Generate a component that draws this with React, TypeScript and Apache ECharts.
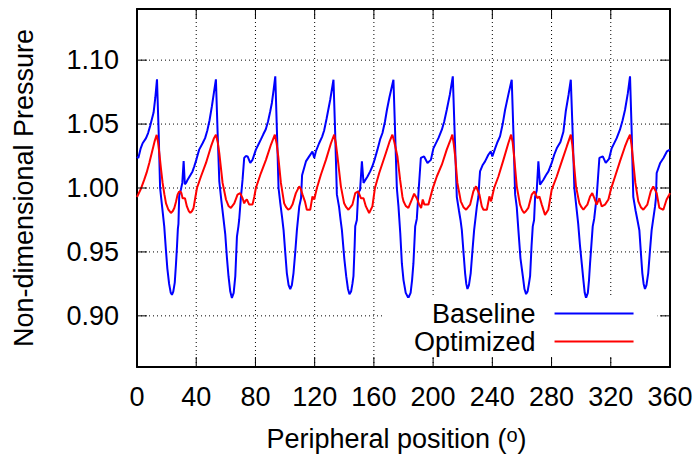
import React, { useEffect, useRef } from "react";
import * as echarts from "echarts";

const xTicks = [0, 40, 80, 120, 160, 200, 240, 280, 320, 360];
const yTicks = [0.9, 0.95, 1.0, 1.05, 1.1];
const X_MIN = 0;
const X_MAX = 360;
const Y_MIN = 0.86;
const Y_MAX = 1.14;

const baselineDeg = [
  0, 0.9, 2.5, 3.8, 6.1, 7.5, 9.0, 11.2, 12.4, 13.5, 14.6, 15.6, 17.0, 18.4, 19.5, 20.5, 21.7, 22.8, 23.6, 24.5, 25.5, 26.3, 27.0, 27.6, 28.0, 28.5, 29.7, 30.6, 31.5, 32.3, 33.2, 34.2, 36.0, 37.5, 38.7, 39.8, 41.0, 42.0, 44.3, 46.0, 47.5, 49.0, 50.6, 52.0, 53.3,
  54.4, 55.6, 57.0, 58.3, 59.6, 60.7, 61.8, 63.0, 64.1, 65.3, 66.4, 67.5, 68.5, 69.0, 70.2, 71.3, 72.4, 73.5, 74.7, 76.5, 78.0, 80.3, 82.0, 83.7, 85.3, 87.0, 88.5, 90.0, 91.1, 92.3, 93.4,
  94.5, 95.6, 96.8, 98.0, 99.0, 100.1, 101.2, 102.4, 103.5, 104.6, 105.7, 106.9, 108.0, 109.6, 110.8, 111.5, 114.1, 116.3, 118.5, 119.7, 120.8, 123.0, 125.0, 126.4, 128.0, 130.5, 132.7,
  133.8, 135.0, 136.5, 137.5, 138.4, 140.0, 141.3, 142.5, 143.5, 144.6, 145.5, 146.2, 147.0, 147.4, 148.5, 149.4, 150.7, 151.9, 153.0, 155.7, 157.5, 159.0, 160.7, 162.4, 164.2, 165.8, 167.5, 168.8, 170.5, 173.2,
  174.3, 175.5, 176.6, 177.8, 178.9, 180.0, 181.5, 183.3, 184.8, 185.8, 186.7, 187.9, 189.0, 190.1, 191.7, 193.9, 196.2, 198.5, 200.2, 203.6, 205.9, 207.5, 209.2, 211.3, 213.3,
  214.5, 216.0, 217.5, 218.5, 219.4, 220.5, 221.6, 222.4, 223.2, 224.2, 225.4, 226.5, 227.7, 229.5, 230.6, 231.2, 231.7, 233.5, 235.1, 237.3, 239.0, 240.0, 241.9, 243.5, 245.2, 247.0, 248.6, 251.0, 253.1,
  254.2, 255.4, 256.5, 257.6, 259.0, 260.6, 261.7, 262.8, 263.8, 264.7, 265.5, 266.5, 267.3, 268.2, 268.9, 270.0, 271.1, 272.2, 274.5, 276.2, 277.9, 280.1, 281.8, 283.5, 286.0, 288.0, 289.6, 291.5, 293.0,
  294.2, 295.4, 296.5, 298.0, 299.2, 300.4, 301.5, 302.4, 303.3, 304.5, 305.3, 306.0, 307.8, 308.8, 310.5, 312.3, 314.6, 316.6, 318.8, 320.6, 324.0, 326.2, 328.0, 329.6, 331.5, 333.0,
  334.1, 335.2, 336.8, 338.0, 339.3, 340.3, 341.3, 342.2, 343.1, 344.1, 345.3, 346.4, 347.6, 349.9, 350.5, 351.0, 353.4, 355.6, 357.9, 360,
];
const baselineVal = [
  1.0245, 1.0235, 1.031, 1.035, 1.039, 1.043, 1.049, 1.059, 1.071, 1.085, 1.045, 1.0, 0.985, 0.97, 0.952, 0.937, 0.925, 0.918, 0.9165, 0.919, 0.926, 0.94, 0.954, 0.968, 0.972, 0.994, 0.999, 1.004, 1.021, 1.003, 1.004, 1.0065, 1.01, 1.013, 1.017, 1.021, 1.026, 1.03, 1.035, 1.039, 1.045, 1.053, 1.064, 1.075, 1.085,
  1.045, 1.005, 0.99, 0.977, 0.964, 0.946, 0.931, 0.919, 0.914, 0.918, 0.931, 0.962, 0.97, 0.975, 0.993, 1.0065, 1.0235, 1.025, 1.0247, 1.0196, 1.022, 1.03, 1.034, 1.038, 1.042, 1.046, 1.052, 1.06, 1.0665, 1.077, 1.0873,
  1.045, 1.0, 0.988, 0.977, 0.967, 0.95, 0.9335, 0.924, 0.921, 0.924, 0.9335, 0.95, 0.967, 0.9856, 0.992, 1.01, 1.0208, 1.0247, 1.0286, 1.0235, 1.0286, 1.035, 1.04, 1.045, 1.054, 1.069, 1.0847,
  1.045, 0.995, 0.985, 0.975, 0.967, 0.945, 0.931, 0.921, 0.917, 0.919, 0.925, 0.931, 0.955, 0.97, 0.975, 0.996, 0.9987, 1.0208, 1.004, 1.009, 1.013, 1.017, 1.023, 1.03, 1.038, 1.043, 1.052, 1.061, 1.071, 1.0847,
  1.045, 1.0, 0.9856, 0.965, 0.941, 0.928, 0.918, 0.914, 0.918, 0.928, 0.941, 0.97, 0.976, 0.996, 1.0235, 1.0247, 1.0196, 1.022, 1.031, 1.039, 1.0456, 1.052, 1.061, 1.073, 1.0873,
  1.045, 0.993, 0.982, 0.975, 0.967, 0.95, 0.9335, 0.925, 0.921, 0.924, 0.9335, 0.95, 0.967, 0.985, 0.9934, 1.005, 1.013, 1.018, 1.0208, 1.026, 1.0286, 1.0247, 1.031, 1.036, 1.0404, 1.05, 1.061, 1.074, 1.0847,
  1.045, 0.995, 0.985, 0.967, 0.945, 0.931, 0.921, 0.917, 0.919, 0.925, 0.931, 0.955, 0.97, 0.975, 0.9934, 0.998, 1.0208, 1.0026, 1.0065, 1.01, 1.013, 1.0196, 1.026, 1.031, 1.036, 1.044, 1.06, 1.073, 1.0847,
  1.045, 1.0, 0.988, 0.972, 0.955, 0.941, 0.928, 0.918, 0.914, 0.918, 0.928, 0.941, 0.97, 0.976, 0.9934, 1.0235, 1.0247, 1.0196, 1.0227, 1.031, 1.039, 1.0456, 1.053, 1.061, 1.074, 1.0873,
  1.045, 0.993, 0.982, 0.975, 0.967, 0.95, 0.9335, 0.925, 0.921, 0.924, 0.9335, 0.95, 0.967, 0.9856, 0.992, 1.0117, 1.0196, 1.0235, 1.0286, 1.03,
];

const optimizedDeg = [
  0, 2.5, 4.9, 6.5, 8.3, 10.5, 12.0, 13.3, 14.2, 15.1, 16.2, 17.3, 18.5, 19.6, 21.2, 22.9, 24.2, 25.2, 26.3, 27.4, 28.4, 29.2, 30.0, 30.8, 32.4, 33.7, 35.0, 36.0, 37.2, 38.2, 39.3, 40.5, 43.2, 46.6, 50.0, 52.0, 53.3,
  54.5, 55.6, 57.8, 60.1, 61.8, 63.4, 65.7, 67.9, 69.7, 71.3, 72.4, 73.3, 74.2, 75.8, 78.0, 79.2, 80.3, 83.7, 87.1, 90.5, 93.1,
  94.3, 95.4, 97.2, 99.4, 100.7, 102.1, 103.5, 105.0, 107.3, 109.6, 110.7, 111.8, 113.4, 114.7, 117.0, 118.5, 119.7, 121.5, 124.2, 127.6, 131.0, 133.2,
  134.3, 135.4, 137.7, 139.9, 141.3, 142.8, 144.2, 145.5, 147.4, 149.4, 151.2, 153.0, 154.6, 156.8, 159.0, 160.7, 163.6, 168.1, 170.5, 172.5,
  173.8, 175.9, 177.7, 179.3, 180.0, 181.5, 183.3, 185.6, 187.2, 189.0, 190.6, 191.9, 193.0, 194.1, 196.8, 199.5, 202.5, 205.9, 209.2, 211.2, 213.0,
  214.0, 214.9, 216.4, 218.7, 220.5, 222.3, 225.0, 227.2, 229.0, 231.3, 232.9, 234.0, 236.3, 238.0, 239.2, 241.2, 244.1, 247.5, 250.8, 252.7,
  253.7, 254.7, 256.5, 258.7, 260.0, 261.4, 262.8, 264.3, 266.6, 268.4, 270.4, 271.8, 273.4, 275.6, 277.8, 280.1, 283.5, 286.9, 290.3, 293.0,
  294.0, 294.7, 296.5, 298.8, 300.2, 301.5, 302.8, 304.2, 306.0, 307.5, 308.9, 310.5, 312.3, 313.9, 316.1, 318.4, 320.0, 322.9, 326.2, 329.6, 331.5, 333.0,
  334.0, 334.8, 336.6, 338.6, 340.3, 342.0, 344.7, 347.0, 348.7, 351.0, 352.8, 355.5, 357.7, 359.5, 360,
];
const optimizedVal = [
  0.993, 0.999, 1.0065, 1.012, 1.0196, 1.03, 1.037, 1.0415, 1.036, 1.027, 1.015, 1.004, 0.995, 0.988, 0.983, 0.9805, 0.982, 0.9844, 0.989, 0.9948, 0.997, 0.9974, 0.996, 0.992, 0.992, 0.9856, 0.982, 0.9805, 0.982, 0.9844, 0.992, 1.0, 1.009, 1.0196, 1.0325, 1.039, 1.0417,
  1.036, 1.027, 1.004, 0.991, 0.986, 0.9844, 0.988, 0.9948, 0.996, 0.992, 0.988, 0.99, 0.991, 0.987, 0.987, 0.993, 1.0, 1.0117, 1.022, 1.034, 1.0417,
  1.035, 1.0247, 1.004, 0.988, 0.985, 0.983, 0.984, 0.987, 0.996, 1.0013, 0.999, 0.9948, 0.9896, 0.983, 0.983, 0.9934, 0.991, 1.0, 1.0104, 1.022, 1.035, 1.0417,
  1.035, 1.0247, 1.0013, 0.988, 0.985, 0.983, 0.985, 0.987, 0.996, 0.9974, 0.992, 0.992, 0.9856, 0.9805, 0.9856, 1.0, 1.0117, 1.0274, 1.036, 1.0417,
  1.036, 1.0247, 1.0065, 0.993, 0.9896, 0.986, 0.9844, 0.991, 0.9955, 0.992, 0.987, 0.9844, 0.991, 0.987, 0.987, 0.9987, 1.009, 1.0182, 1.03, 1.036, 1.0417,
  1.034, 1.0247, 1.004, 0.9896, 0.985, 0.983, 0.987, 0.9974, 1.0013, 0.9948, 0.9856, 0.983, 0.983, 0.9934, 0.9896, 1.0, 1.009, 1.022, 1.035, 1.0417,
  1.036, 1.0247, 1.0013, 0.987, 0.983, 0.9805, 0.982, 0.9844, 0.9948, 0.9974, 0.992, 0.9934, 0.987, 0.979, 0.983, 0.9987, 1.009, 1.0208, 1.0325, 1.0417,
  1.034, 1.0247, 1.0013, 0.988, 0.985, 0.983, 0.985, 0.987, 0.9934, 0.996, 0.992, 0.987, 0.992, 0.9856, 0.987, 0.991, 0.9987, 1.009, 1.0208, 1.0325, 1.038, 1.0417,
  1.034, 1.0247, 1.004, 0.9896, 0.985, 0.983, 0.987, 0.9974, 1.0013, 0.996, 0.9844, 0.983, 0.991, 0.9948, 0.996,
];

const FONT = "Liberation Sans";
// tick mark length (about 10 px) expressed in axis units
const TICK_X = 6.75;
const TICK_Y = 0.0078;

export default function App() {
  const ref = useRef<HTMLDivElement>(null);
  useEffect(() => {
    const chart = echarts.init(ref.current!, null, { renderer: "svg" });
    const pair = (xs: number[], ys: number[]) => xs.map((x, i) => [x, ys[i]]);
    const inner = xTicks.filter((v) => v > X_MIN && v < X_MAX);
    const helper = (name: string, data: number[][], dashed: boolean, z: number) => ({
      name, type: "line", xAxisIndex: 0, yAxisIndex: 0, data, showSymbol: false, symbol: "none",
      silent: true, z, emphasis: { disabled: true },
      lineStyle: { color: "#000", width: 1, type: dashed ? [1, 3] : "solid" },
      itemStyle: { color: "#000" },
    });
    const gridSeries = [
      ...inner.map((v) => helper(`gx${v}`, [[v, Y_MIN], [v, Y_MAX]], true, 1)),
      ...yTicks.map((v) => helper(`gy${v}`, [[X_MIN, v], [X_MAX, v]], true, 1)),
    ];
    const tickSeries = [
      ...inner.flatMap((v) => [
        helper(`tb${v}`, [[v, Y_MIN], [v, Y_MIN + TICK_Y]], false, 6),
        helper(`tt${v}`, [[v, Y_MAX - TICK_Y], [v, Y_MAX]], false, 6),
      ]),
      ...yTicks.flatMap((v) => [
        helper(`tl${v}`, [[X_MIN, v], [X_MIN + TICK_X, v]], false, 6),
        helper(`tr${v}`, [[X_MAX - TICK_X, v], [X_MAX, v]], false, 6),
      ]),
    ];
    const line = () => ({ show: true, onZero: false, lineStyle: { color: "#000", width: 2 } });
    chart.setOption({
      animation: false,
      backgroundColor: "#fff",
      grid: [{ left: 137, top: 9, width: 533, height: 359 }],
      legend: {
        show: true,
        data: ["Baseline", "Optimized"],
        orient: "vertical",
        align: "right",
        left: 383,
        top: 298,
        padding: [2, 24, 2, 31],
        itemGap: 1,
        itemWidth: 79,
        itemHeight: 2,
        icon: "rect",
        backgroundColor: "#fff",
        selectedMode: false,
        textStyle: { fontSize: 27, fontFamily: FONT, color: "#000", padding: [0, 14, 0, 0] },
      },
      xAxis: [
        {
          gridIndex: 0, type: "value", min: X_MIN, max: X_MAX, interval: 40, position: "bottom",
          axisLine: line(), axisTick: { show: false }, splitLine: { show: false },
          axisLabel: { show: true, margin: 16, fontSize: 27, fontFamily: FONT, color: "#000", customValues: xTicks },
          name: "Peripheral position ({sup|o})", nameLocation: "middle", nameGap: 58,
          nameTextStyle: {
            fontSize: 27, fontFamily: FONT, color: "#000", padding: [0, 14, 0, 0],
            rich: { sup: { fontSize: 20, lineHeight: 8, fontFamily: FONT, color: "#000", verticalAlign: "top" } },
          },
        },
        {
          gridIndex: 0, type: "value", min: X_MIN, max: X_MAX, interval: 40, position: "top",
          axisLine: line(), axisTick: { show: false }, splitLine: { show: false }, axisLabel: { show: false },
        },
      ],
      yAxis: [
        {
          gridIndex: 0, type: "value", min: Y_MIN, max: Y_MAX, position: "left",
          axisLine: line(), axisTick: { show: false }, splitLine: { show: false },
          axisLabel: { show: true, margin: 18, fontSize: 27, fontFamily: FONT, color: "#000", customValues: yTicks, formatter: (v: number) => v.toFixed(2) },
          name: "Non-dimensional Pressure", nameLocation: "middle", nameGap: 100,
          nameTextStyle: { fontSize: 27, fontFamily: FONT, color: "#000" },
        },
        {
          gridIndex: 0, type: "value", min: Y_MIN, max: Y_MAX, position: "right",
          axisLine: line(), axisTick: { show: false }, splitLine: { show: false }, axisLabel: { show: false },
        },
      ],
      series: [
        ...gridSeries,
        ...tickSeries,
        {
          name: "Baseline", type: "line", xAxisIndex: 0, yAxisIndex: 0, data: pair(baselineDeg, baselineVal), showSymbol: false, z: 2,
          color: "#0000ff", itemStyle: { color: "#0000ff" }, lineStyle: { color: "#0000ff", width: 2 },
        },
        {
          name: "Optimized", type: "line", xAxisIndex: 0, yAxisIndex: 0, data: pair(optimizedDeg, optimizedVal), showSymbol: false, z: 2,
          color: "#ff0000", itemStyle: { color: "#ff0000" }, lineStyle: { color: "#ff0000", width: 2 },
        },
      ],
    });
    return () => chart.dispose();
  }, []);
  return <div ref={ref} style={{ position: "absolute", left: 0, top: 0, width: 697, height: 457 }} />;
}
